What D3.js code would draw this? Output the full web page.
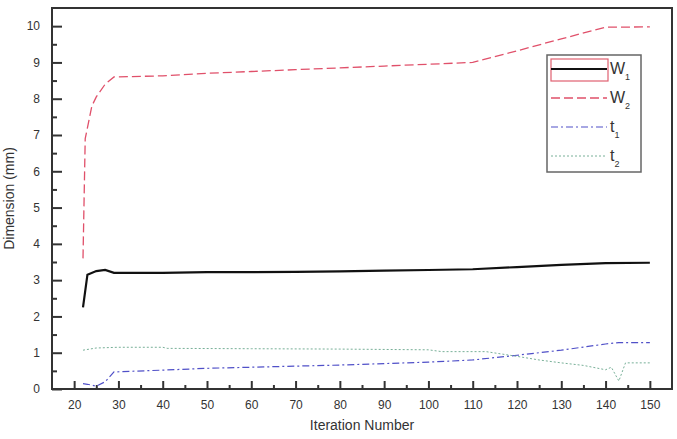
<!DOCTYPE html>
<html>
<head>
<meta charset="utf-8">
<script src="https://cdn.jsdelivr.net/npm/d3@7"></script>
<style>
  body { margin: 0; background: #fff; }
  svg { font-family: "Liberation Sans Narrow", "Arial Narrow", "Liberation Sans", sans-serif; }
</style>
</head>
<body>
<div id="chart"></div>
<script>
const xTicks = [20, 30, 40, 50, 60, 70, 80, 90, 100, 110, 120, 130, 140, 150];
const yTicks = [0, 1, 2, 3, 4, 5, 6, 7, 8, 9, 10];

const w1 = [[22, 2.25], [23, 3.15], [25, 3.25], [27, 3.28], [29, 3.2], [40, 3.2], [50, 3.22], [60, 3.22], [70, 3.23], [80, 3.24], [90, 3.26], [100, 3.28], [110, 3.3], [120, 3.36], [130, 3.42], [140, 3.47], [150, 3.48]];
const w2 = [[22, 3.6], [22.5, 6.9], [24, 7.8], [25, 8.05], [27, 8.4], [29, 8.6], [40, 8.63], [50, 8.7], [60, 8.75], [70, 8.8], [80, 8.85], [90, 8.9], [100, 8.95], [110, 9.0], [120, 9.32], [130, 9.65], [140, 9.97], [150, 9.98]];
const t1 = [[22, 0.15], [23, 0.13], [25, 0.08], [27, 0.2], [29, 0.47], [40, 0.52], [50, 0.57], [60, 0.6], [70, 0.63], [80, 0.66], [90, 0.7], [100, 0.74], [110, 0.8], [120, 0.93], [130, 1.07], [140, 1.24], [143, 1.28], [150, 1.28]];
const t2 = [[22, 1.07], [25, 1.13], [30, 1.15], [40, 1.15], [41, 1.12], [60, 1.11], [80, 1.1], [100, 1.08], [103, 1.03], [113, 1.03], [120, 0.9], [125, 0.8], [130, 0.72], [135, 0.65], [140, 0.53], [141.3, 0.6], [143, 0.22], [144.5, 0.72], [150, 0.72]];

const series = [
  { name: 'W', sub: '1', data: w1, color: '#111', width: 2.2, dash: null },
  { name: 'W', sub: '2', data: w2, color: '#e0506a', width: 1.3, dash: '9,4' },
  { name: 't', sub: '1', data: t1, color: '#5050c8', width: 1.2, dash: '7,3,2,3' },
  { name: 't', sub: '2', data: t2, color: '#78b098', width: 1, dash: '2,2' }
];

const W = 677, H = 439;
const margin = { top: 8, right: 5, bottom: 50, left: 52 };

const svg = d3.select('#chart').append('svg').attr('width', W).attr('height', H);

const x = d3.scaleLinear().domain([15, 155]).range([margin.left, W - margin.right]);
const y = d3.scaleLinear().domain([0, 10.5]).range([H - margin.bottom, margin.top]);

// ticks inside the frame
const xMinor = xTicks.map(v => v + 5).filter(v => v < 155);
svg.append('g').attr('transform', `translate(0,${y(0)})`)
  .call(d3.axisBottom(x).tickValues(xTicks).tickSize(-8).tickPadding(11))
  .call(g => g.select('.domain').remove())
  .call(g => g.selectAll('line').attr('stroke', '#333').attr('stroke-width', 2))
  .call(g => g.selectAll('text').attr('font-size', 12).attr('fill', '#333'));
svg.append('g').attr('transform', `translate(0,${y(0)})`)
  .call(d3.axisBottom(x).tickValues(xMinor).tickSize(-4).tickFormat(''))
  .call(g => g.select('.domain').remove())
  .call(g => g.selectAll('line').attr('stroke', '#333').attr('stroke-width', 2));

const yMinor = yTicks.map(v => v + 0.5).filter(v => v < 10.5);
svg.append('g').attr('transform', `translate(${x(15)},0)`)
  .call(d3.axisLeft(y).tickValues(yTicks).tickSize(-10).tickPadding(12))
  .call(g => g.select('.domain').remove())
  .call(g => g.selectAll('line').attr('stroke', '#333').attr('stroke-width', 2))
  .call(g => g.selectAll('text').attr('font-size', 12).attr('fill', '#333'));
svg.append('g').attr('transform', `translate(${x(15)},0)`)
  .call(d3.axisLeft(y).tickValues(yMinor).tickSize(-5).tickFormat(''))
  .call(g => g.select('.domain').remove())
  .call(g => g.selectAll('line').attr('stroke', '#333').attr('stroke-width', 2));

// frame
svg.append('rect')
  .attr('x', x(15)).attr('y', y(10.5))
  .attr('width', x(155) - x(15)).attr('height', y(0) - y(10.5))
  .attr('fill', 'none').attr('stroke', '#333').attr('stroke-width', 2);

const line = d3.line().x(d => x(d[0])).y(d => y(d[1]));

svg.selectAll('path.series')
  .data(series)
  .enter().append('path')
  .attr('class', 'series')
  .attr('d', d => line(d.data))
  .attr('fill', 'none')
  .attr('stroke', d => d.color)
  .attr('stroke-width', d => d.width)
  .attr('stroke-dasharray', d => d.dash);

// axis titles
svg.append('text')
  .attr('x', (x(15) + x(155)) / 2).attr('y', 430)
  .attr('text-anchor', 'middle').attr('font-size', 14).attr('fill', '#333')
  .text('Iteration Number');
svg.append('text')
  .attr('transform', `translate(14,${(y(0) + y(10.5)) / 2}) rotate(-90)`)
  .attr('text-anchor', 'middle').attr('font-size', 14).attr('fill', '#333')
  .text('Dimension (mm)');

// legend
const lg = svg.append('g').attr('transform', 'translate(547,55)');
lg.append('rect').attr('width', 94).attr('height', 117)
  .attr('fill', '#fff').attr('stroke', '#666').attr('stroke-width', 1.5);
lg.append('rect').attr('x', 4).attr('y', 4).attr('width', 57).attr('height', 22)
  .attr('fill', 'none').attr('stroke', '#e06070').attr('stroke-width', 1.2);

const items = lg.selectAll('g.item').data(series).enter().append('g')
  .attr('class', 'item')
  .attr('transform', (d, i) => `translate(0,${14 + i * 29})`);
items.append('line')
  .attr('x1', 4).attr('x2', 60)
  .attr('stroke', d => d.color)
  .attr('stroke-width', d => d.width)
  .attr('stroke-dasharray', d => d.dash);
const lbl = items.append('text').attr('x', 63).attr('y', 5)
  .attr('font-size', 16).attr('fill', '#333');
lbl.append('tspan').text(d => d.name);
lbl.append('tspan').attr('font-size', 9).attr('dy', 6).text(d => d.sub);
</script>
</body>
</html>
